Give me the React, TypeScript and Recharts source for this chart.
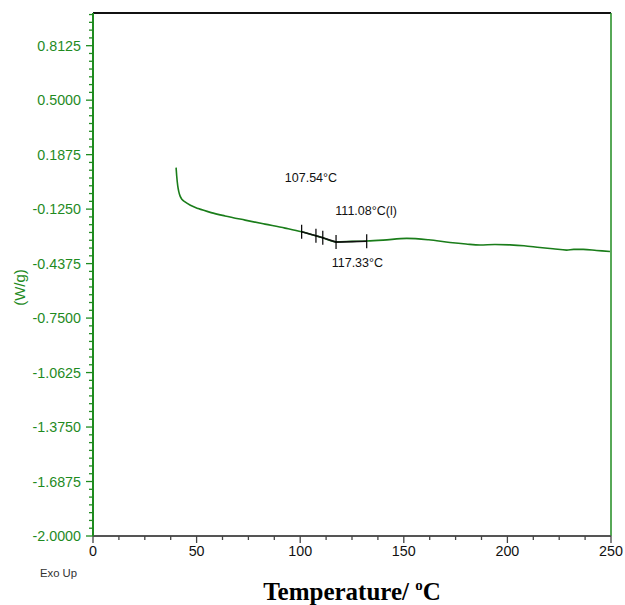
import React from "react";
import {
  ComposedChart,
  Line,
  Scatter,
  XAxis,
  YAxis,
  ReferenceLine,
} from "recharts";

// ---- data ----
const temperatures = [
  40.1, 40.4, 40.9, 41.4, 42.0, 43.0, 44.4, 47.0, 50.8, 57.0, 63.7, 73.4, 83.0,
  92.7, 100.7, 107.6, 110.9, 117.3, 125.0, 132.1, 140.0, 151.4, 162.0, 172.3,
  180.0, 186.8, 194.0, 201.3, 208.0, 215.7, 222.0, 228.6, 232.0, 236.6, 243.0,
  249.5,
];
const heatFlow = [
  0.113, 0.065, 0.008, -0.025, -0.049, -0.07, -0.084, -0.103, -0.122, -0.145,
  -0.164, -0.188, -0.211, -0.234, -0.255, -0.278, -0.289, -0.312, -0.31,
  -0.308, -0.303, -0.293, -0.301, -0.316, -0.325, -0.331, -0.328, -0.33,
  -0.335, -0.345, -0.352, -0.36, -0.356, -0.356, -0.362, -0.368,
];

// analysis overlay (glass transition construction)
const analysisTemps = [100.7, 107.6, 110.9, 117.3, 132.1];
const analysisValues = [-0.255, -0.278, -0.289, -0.314, -0.309];

const annotationTexts = ["107.54°C", "111.08°C(l)", "117.33°C"];
const annotationTemps = [105.2, 131.8, 127.6];
const annotationValues = [0.054, -0.135, -0.432];

const yMajorTicks = [
  -2.0, -1.6875, -1.375, -1.0625, -0.75, -0.4375, -0.125, 0.1875, 0.5, 0.8125,
];
const yTickLabels = [
  "-2.0000", "-1.6875", "-1.3750", "-1.0625", "-0.7500", "-0.4375", "-0.1250",
  "0.1875", "0.5000", "0.8125",
];
const xMajorTicks = [0, 50, 100, 150, 200, 250];
const xMinorStep = 12.5;
const yMinorPerMajor = 7;
const yDomain: [number, number] = [-2, 1];
const xDomain: [number, number] = [0, 250];

// ---- derived tables ----
const curveData = temperatures.map((t, i) => ({ t, v: heatFlow[i] }));
const analysisData = analysisTemps.map((t, i) => ({ t, v: analysisValues[i] }));
const annotationData = annotationTexts.map((label, i) => ({
  t: annotationTemps[i],
  v: annotationValues[i],
  label,
}));

const yStep = 0.3125 / yMinorPerMajor;
const yAllTicks: number[] = [];
yMajorTicks.forEach((m) => {
  yAllTicks.push(m);
  for (let k = 1; k < yMinorPerMajor; k++) {
    const v = m + k * yStep;
    if (v <= yDomain[1] + 1e-9) yAllTicks.push(+v.toFixed(6));
  }
});
const xAllTicks: number[] = [];
for (let v = xDomain[0]; v <= xDomain[1] + 1e-9; v += xMinorStep) xAllTicks.push(v);

const GREEN = "#1f8b1f";
const CURVE = "#1a7d1a";
const SANS = "'Liberation Sans', Arial, sans-serif";
const SERIF = "'Liberation Serif', 'Times New Roman', serif";

const isMajor = (arr: number[], v: number) =>
  arr.some((m) => Math.abs(m - v) < 1e-6);

const YTick = (props: any) => {
  const { x, y, payload } = props;
  const major = isMajor(yMajorTicks, payload.value);
  const idx = yMajorTicks.findIndex((m) => Math.abs(m - payload.value) < 1e-6);
  return (
    <g>
      <line x1={x - (major ? 7 : 4)} x2={x} y1={y} y2={y} stroke={GREEN} strokeWidth={1.3} />
      {major && (
        <text
          x={x - 12}
          y={y}
          dy="0.36em"
          textAnchor="end"
          fill={GREEN}
          fontSize={14.3}
          fontFamily={SANS}
        >
          {yTickLabels[idx]}
        </text>
      )}
    </g>
  );
};

const XTick = (props: any) => {
  const { x, y, payload } = props;
  const major = isMajor(xMajorTicks, payload.value);
  return (
    <g>
      <line x1={x} x2={x} y1={y} y2={y + (major ? 7 : 4)} stroke="#444" strokeWidth={1.3} />
      {major && (
        <text
          x={x}
          y={y + 20}
          textAnchor="middle"
          fill="#111"
          fontSize={14.3}
          fontFamily={SANS}
        >
          {payload.value}
        </text>
      )}
    </g>
  );
};

const XLabel = (props: any) => {
  const vb = props.viewBox || {};
  const cx = vb.x + vb.width / 2;
  return (
    <g>
      <text
        x={cx}
        y={vb.y + 63.5}
        textAnchor="middle"
        fontFamily={SERIF}
        fontWeight="bold"
        fontSize={25}
        fill="#000"
      >
        Temperature/{" "}
        <tspan fontSize={15} dy={-10}>
          o
        </tspan>
        <tspan dy={10}>C</tspan>
      </text>
      <text x={vb.x - 53} y={vb.y + 41} fontFamily={SANS} fontSize={11.3} fill="#333">
        Exo Up
      </text>
    </g>
  );
};

const YLabel = (props: any) => {
  const vb = props.viewBox || {};
  const cx = 19;
  const cy = vb.y + vb.height / 2 + 13;
  return (
    <text
      x={cx}
      y={cy}
      transform={`rotate(-90 ${cx} ${cy})`}
      textAnchor="middle"
      dominantBaseline="central"
      fontFamily={SANS}
      fontSize={15}
      fill={GREEN}
    >
      (W/g)
    </text>
  );
};

const MarkShape = (props: any) => {
  const { cx, cy } = props;
  return <line x1={cx} x2={cx} y1={cy - 7} y2={cy + 7} stroke="#000" strokeWidth={1.2} />;
};

const TextShape = (props: any) => {
  const { cx, cy, payload } = props;
  return (
    <text
      x={cx}
      y={cy}
      textAnchor="middle"
      dominantBaseline="central"
      fontFamily={SANS}
      fontSize={12.5}
      fill="#111"
    >
      {payload.label}
    </text>
  );
};

export default function App() {
  return (
    <div style={{ position: "absolute", left: 0, top: 0, background: "#fff" }}>
      <ComposedChart
        width={625}
        height={605}
        margin={{ top: 13, right: 14, bottom: 0, left: 0 }}
      >
        <XAxis
          type="number"
          dataKey="t"
          domain={xDomain}
          ticks={xAllTicks}
          interval={0}
          tick={<XTick />}
          tickLine={false}
          tickSize={0}
          tickMargin={0}
          height={69}
          axisLine={{ stroke: "#555", strokeWidth: 2 }}
          allowDataOverflow
          label={{ content: <XLabel /> }}
        />
        <YAxis
          type="number"
          dataKey="v"
          domain={yDomain}
          ticks={yAllTicks}
          interval={0}
          tick={<YTick />}
          tickLine={false}
          tickSize={0}
          tickMargin={0}
          width={93}
          axisLine={{ stroke: GREEN, strokeWidth: 2 }}
          allowDataOverflow
          label={{ content: <YLabel /> }}
        />
        <ReferenceLine y={yDomain[1]} stroke="#111" strokeWidth={2} />
        <ReferenceLine x={xDomain[1]} stroke={GREEN} strokeWidth={1.5} />
        <Line
          data={curveData}
          dataKey="v"
          type="monotone"
          stroke={CURVE}
          strokeWidth={1.6}
          dot={false}
          isAnimationActive={false}
        />
        <Line
          data={analysisData}
          dataKey="v"
          type="linear"
          stroke="#111"
          strokeWidth={1.6}
          dot={false}
          isAnimationActive={false}
        />
        <Scatter
          data={analysisData}
          dataKey="v"
          shape={<MarkShape />}
          isAnimationActive={false}
        />
        <Scatter
          data={annotationData}
          dataKey="v"
          shape={<TextShape />}
          isAnimationActive={false}
        />
      </ComposedChart>
    </div>
  );
}
